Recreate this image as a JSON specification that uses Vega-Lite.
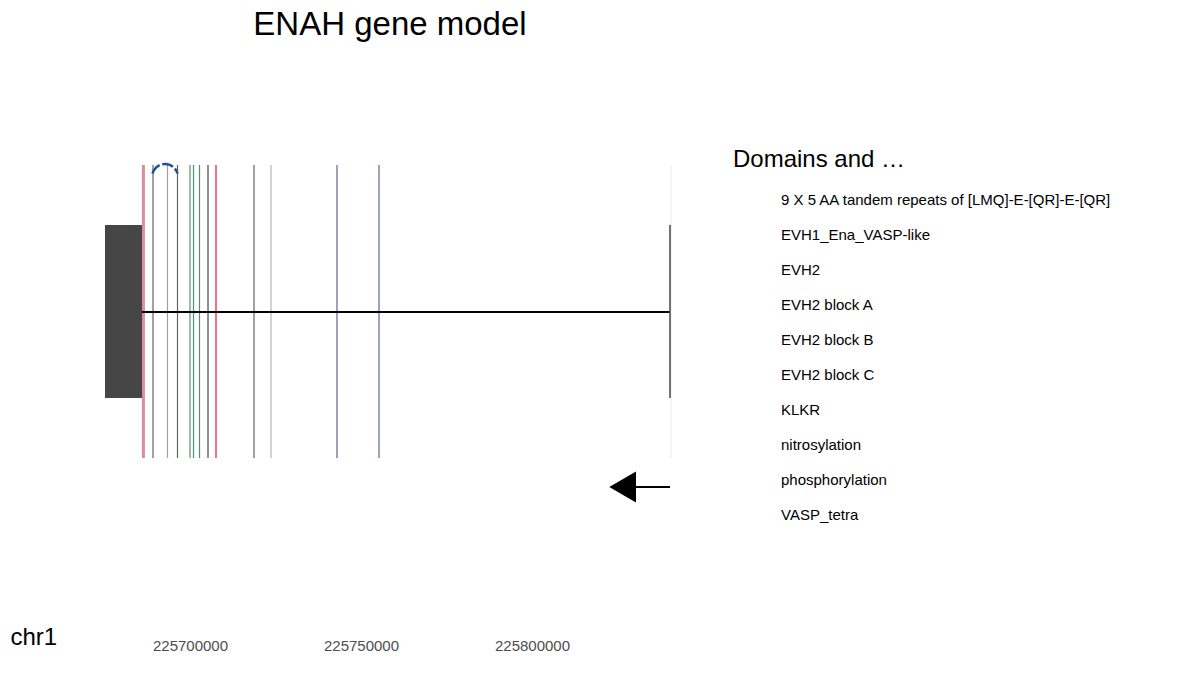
{
  "$schema": "https://vega.github.io/schema/vega-lite/v6.json",
  "width": 580,
  "height": 590,
  "autosize": "none",
  "padding": {"left": 100, "top": 40, "right": 512, "bottom": 67},
  "background": "white",
  "config": {"view": {"stroke": null}, "font": "Liberation Sans"},
  "title": {"text": "ENAH gene model", "fontSize": 33, "fontWeight": "normal", "color": "black", "offset": -2},
  "datasets": {
    "lines": [
      {"pos": 225689181, "op": 0.85},
      {"pos": 225693421, "op": 0.5},
      {"pos": 225696345, "op": 0.85},
      {"pos": 225705263, "op": 1},
      {"pos": 225718713, "op": 0.85},
      {"pos": 225723684, "op": 0.4},
      {"pos": 225840643, "op": 0.1}
    ],
    "domains": [
      {"pos": 225686111, "feature": "VASP_tetra"},
      {"pos": 225686550, "feature": "phosphorylation"},
      {"pos": 225700000, "feature": "EVH2 block A"},
      {"pos": 225701023, "feature": "EVH2"},
      {"pos": 225702778, "feature": "EVH2 block A"},
      {"pos": 225707602, "feature": "9 X 5 AA tandem repeats of [LMQ]-E-[QR]-E-[QR]"},
      {"pos": 225742982, "feature": "EVH1_Ena_VASP-like"},
      {"pos": 225755263, "feature": "EVH1_Ena_VASP-like"}
    ],
    "exons": [
      {"start": 225675146, "end": 225685965, "top": -87, "bottom": 86}
    ]
  },
  "layer": [
    {
      "data": {"name": "lines"},
      "mark": {"type": "rule", "color": "#464646", "strokeWidth": 1.2},
      "encoding": {
        "x": {"field": "pos", "type": "quantitative", "scale": {"domain": [225673684, 225843275], "nice": false, "zero": false},
          "axis": {"values": [225700000, 225750000, 225800000], "format": "d", "grid": false, "domain": false, "ticks": false,
            "labelFontSize": 15, "labelColor": "#4d4d4d", "labelPadding": 8,
            "title": "chr1", "titleFontSize": 24, "titleFontWeight": "normal", "titleColor": "black", "titleAnchor": "start",
            "titleX": -90, "titleY": 7, "titleBaseline": "middle", "titleAlign": "left"}},
        "y": {"datum": -147, "type": "quantitative", "scale": {"domain": [-272, 318], "reverse": true, "nice": false, "zero": false}, "axis": null},
        "y2": {"datum": 146},
        "opacity": {"field": "op", "type": "quantitative", "scale": null}
      }
    },
    {
      "data": {"name": "domains"},
      "mark": {"type": "rule", "strokeWidth": 1.2, "opacity": 0.9},
      "encoding": {
        "x": {"field": "pos", "type": "quantitative"},
        "y": {"datum": -147, "type": "quantitative"},
        "y2": {"datum": 146},
        "color": {"field": "feature", "type": "nominal",
          "scale": {"domain": ["9 X 5 AA tandem repeats of [LMQ]-E-[QR]-E-[QR]", "EVH1_Ena_VASP-like", "EVH2", "EVH2 block A", "EVH2 block B", "EVH2 block C", "KLKR", "nitrosylation", "phosphorylation", "VASP_tetra"],
            "range": ["#E0001B", "#4B5388", "#33896A", "#517F57", "#8E3C7A", "#F06514", "#FFCC1B", "#CCA62A", "#A64E3A", "#EE6BB4"]},
          "legend": {"title": "Domains and PTMs", "orient": "none", "legendX": 633, "legendY": 108,
            "titleFontSize": 24, "titleFontWeight": "normal", "titleColor": "black", "titlePadding": 12,
            "symbolType": "square", "symbolSize": 1024, "symbolOpacity": 1, "symbolStrokeWidth": 0,
            "labelFontSize": 15, "labelColor": "black", "labelOffset": 16, "rowPadding": 3, "labelLimit": 500}}
      }
    },
    {
      "data": {"values": [{"a": 225685965, "b": 225840351}]},
      "mark": {"type": "rule", "color": "black", "strokeWidth": 2},
      "encoding": {"x": {"field": "a", "type": "quantitative"}, "x2": {"field": "b"}, "y": {"datum": 0, "type": "quantitative"}}
    },
    {
      "data": {"name": "exons"},
      "mark": {"type": "rect", "color": "#464646"},
      "encoding": {"x": {"field": "start", "type": "quantitative"}, "x2": {"field": "end"},
        "y": {"field": "top", "type": "quantitative"}, "y2": {"field": "bottom"}}
    },
    {
      "data": {"values": [{"pos": 225840351}]},
      "mark": {"type": "rule", "color": "#464646", "strokeWidth": 1.5},
      "encoding": {"x": {"field": "pos", "type": "quantitative"}, "y": {"datum": -87, "type": "quantitative"}, "y2": {"datum": 86}}
    },
    {
      "data": {"values": [{"a": 225829000, "b": 225840351}]},
      "mark": {"type": "rule", "color": "black", "strokeWidth": 2},
      "encoding": {"x": {"field": "a", "type": "quantitative"}, "x2": {"field": "b"}, "y": {"datum": 175, "type": "quantitative"}}
    },
    {
      "data": {"values": [{"pos": 225826500}]},
      "mark": {"type": "point", "shape": "triangle-left", "filled": true, "color": "black", "size": 950, "opacity": 1},
      "encoding": {"x": {"field": "pos", "type": "quantitative"}, "y": {"datum": 175, "type": "quantitative"}}
    },
    {
      "data": {"values": [{"pos": 225692690}]},
      "mark": {"type": "arc", "radius": 13, "radius2": 13, "fill": null, "stroke": "#1f4e9a", "strokeWidth": 2.5, "strokeDash": [7, 7]},
      "encoding": {"x": {"field": "pos", "type": "quantitative"}, "y": {"datum": -135, "type": "quantitative"},
        "theta": {"datum": -1.3, "scale": null}, "theta2": {"datum": 1.3}}
    }
  ]
}
